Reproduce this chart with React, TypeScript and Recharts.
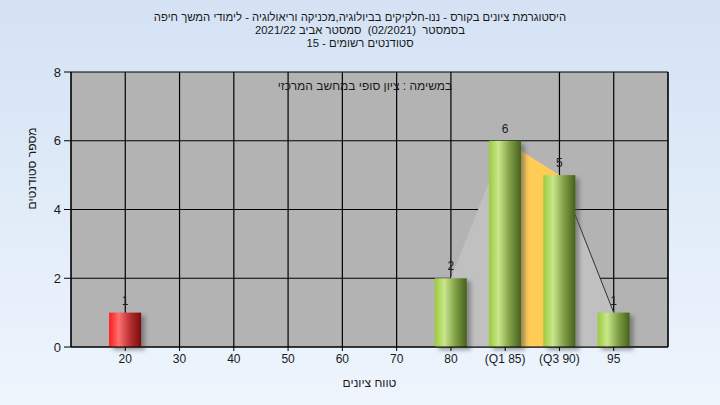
import React from 'react'
import { ComposedChart, Bar, Area, XAxis, YAxis, CartesianGrid, LabelList } from 'recharts'

// grade buckets on the x axis (positions 1..10 in a 0..11 domain)
const positions = [1, 2, 3, 4, 5, 6, 7, 8, 9, 10]
const gradeLabels = ['20', '30', '40', '50', '60', '70', '80', '(Q1 85)', '(Q3 90)', '95']
const studentCounts = [1, 0, 0, 0, 0, 0, 2, 6, 5, 1]
// frequency polygon behind the bars (80..95) and the Q1-Q3 band
const polygonValues = [null, null, null, null, null, null, 2, 6, 5, 1]
const quartileValues = [null, null, null, null, null, null, null, 6, 5, null]
const tailLine = [null, null, null, null, null, null, null, null, 5, 1]
const yTicks = [0, 2, 4, 6, 8]

const titleLines = [
  'היסטוגרמת ציונים בקורס - ננו-חלקיקים בביולוגיה,מכניקה וריאולוגיה - לימודי המשך חיפה',
  'בסמסטר  (02/2021)  סמסטר אביב 2021/22',
  'סטודנטים רשומים - 15',
]
const innerTitle = 'במשימה : ציון סופי במחשב המרכזי'
const xTitle = 'טווח ציונים'
const yTitle = 'מספר סטודנטים'

const data = positions.map((x, i) => ({
  x,
  label: gradeLabels[i],
  count: studentCounts[i],
  poly: polygonValues[i],
  quart: quartileValues[i],
  tail: tailLine[i],
}))

const font = '"Liberation Sans", Arial, sans-serif'

const CylinderBar = (props: any) => {
  const { x, y, width, height, payload } = props
  if (!height || height <= 0) return null
  const red = payload.x === 1
  return (
    <g>
      <rect x={x + 4} y={y + 3} width={width} height={height} fill="#555" opacity={0.55} filter="url(#barShadow)" />
      <rect x={x} y={y} width={width} height={height} fill={red ? 'url(#redGrad)' : 'url(#greenGrad)'} />
    </g>
  )
}

export default function App() {
  return (
    <div
      style={{
        position: 'fixed',
        top: 0,
        left: 0,
        width: 720,
        height: 405,
        background: 'linear-gradient(#d4e2f4, #eef5fd)',
        fontFamily: font,
        color: '#1a1a1a',
      }}
    >
      <div
        style={{ position: 'absolute', top: 11, left: 0, width: 720, textAlign: 'center', fontSize: 11.3, lineHeight: '13px', whiteSpace: 'pre' }}
        dir="rtl"
      >
        {titleLines.map((t) => (
          <div key={t}>{t}</div>
        ))}
      </div>
      <ComposedChart width={720} height={405} data={data} margin={{ top: 72, right: 0, bottom: 0, left: 0 }}>
        <defs>
          <linearGradient id="greenGrad" x1="0" y1="0" x2="1" y2="0">
            <stop offset="0%" stopColor="#9ccb3a" />
            <stop offset="30%" stopColor="#c9e68c" />
            <stop offset="65%" stopColor="#7f9f45" />
            <stop offset="100%" stopColor="#46611c" />
          </linearGradient>
          <linearGradient id="redGrad" x1="0" y1="0" x2="1" y2="0">
            <stop offset="0%" stopColor="#ff1a1a" />
            <stop offset="30%" stopColor="#ff7070" />
            <stop offset="65%" stopColor="#b83030" />
            <stop offset="100%" stopColor="#7a0c0c" />
          </linearGradient>
          <filter id="barShadow" x="-30%" y="-30%" width="160%" height="160%">
            <feGaussianBlur stdDeviation="2" />
          </filter>
        </defs>
        <CartesianGrid yAxisId="left" stroke="#000" strokeWidth={1.2} fill="#b3b3b3" fillOpacity={1} />
        <XAxis
          dataKey="x"
          type="number"
          domain={[0, 11]}
          ticks={positions}
          tickFormatter={(v: number) => gradeLabels[v - 1]}
          height={58}
          stroke="#000"
          tickSize={4}
          tickMargin={3}
          tick={{ fill: '#1a1a1a', fontSize: 12, fontFamily: font }}
          label={{ value: xTitle, position: 'insideBottom', offset: 18, fill: '#1a1a1a', fontSize: 12, fontFamily: font }}
        />
        <YAxis
          yAxisId="left"
          domain={[0, 8]}
          ticks={yTicks}
          width={71}
          stroke="#000"
          tickSize={7}
          tickMargin={3}
          tick={{ fill: '#1a1a1a', fontSize: 13, fontFamily: font }}
          label={{ value: yTitle, angle: -90, position: 'insideLeft', offset: 32, fill: '#1a1a1a', fontSize: 12, fontFamily: font }}
        />
        <YAxis
          yAxisId="right"
          orientation="right"
          domain={[0, 8]}
          ticks={yTicks}
          width={52}
          stroke="#000"
          tickSize={7}
          tickMargin={3}
          tick={{ fill: '#1a1a1a', fontSize: 13, fontFamily: font }}
        />
        <Area yAxisId="left" dataKey="poly" type="linear" stroke="none" fill="#c0c0c0" fillOpacity={1} isAnimationActive={false} />
        <Area yAxisId="left" dataKey="quart" type="linear" stroke="none" fill="#ffcc55" fillOpacity={1} isAnimationActive={false} />
        <Area yAxisId="left" dataKey="tail" type="linear" stroke="#333" strokeWidth={1} fill="none" dot={false} isAnimationActive={false} />
        <Bar yAxisId="left" dataKey="count" barSize={32} shape={CylinderBar} isAnimationActive={false}>
          <LabelList
            dataKey="count"
            position="top"
            offset={8}
            formatter={(v: any) => (v ? v : '')}
            style={{ fill: '#1a1a1a', fontSize: 12, fontFamily: font }}
          />
        </Bar>
        <text x={365} y={90} textAnchor="middle" direction="rtl" fill="#1a1a1a" fontSize={12} fontFamily={font}>
          {innerTitle}
        </text>
      </ComposedChart>
    </div>
  )
}
